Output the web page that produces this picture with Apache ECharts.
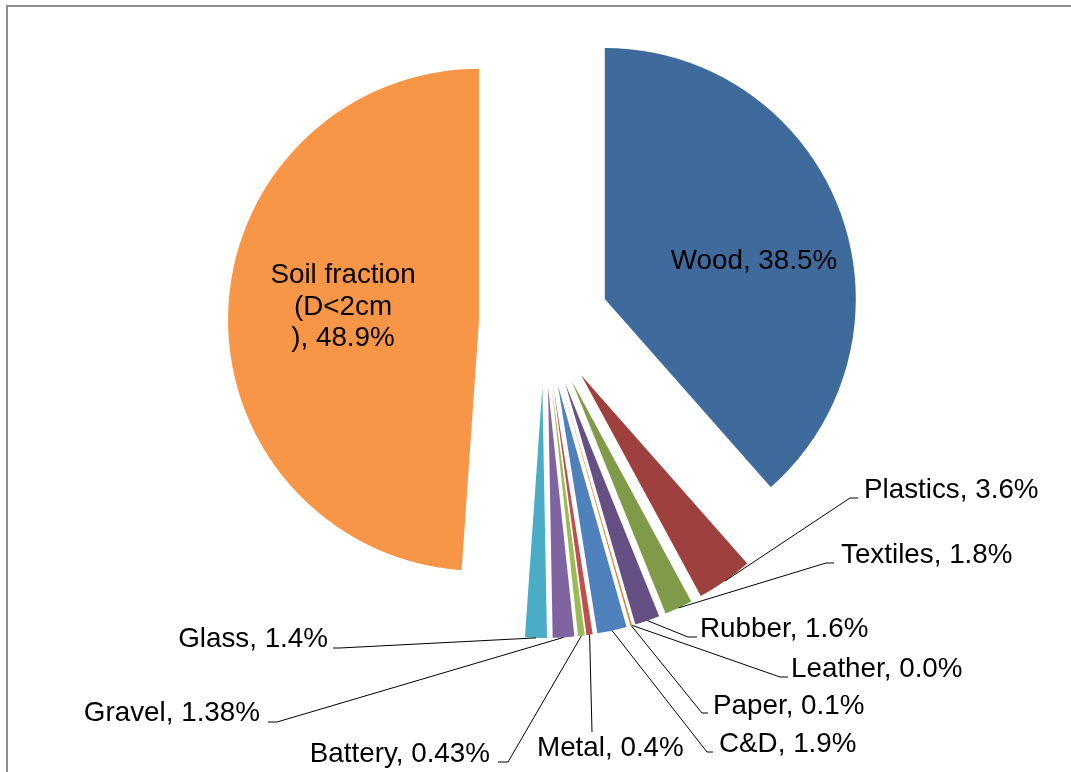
<!DOCTYPE html>
<html>
<head>
<meta charset="utf-8">
<style>
  html, body { margin: 0; padding: 0; background: #ffffff; }
  #chart { width: 1071px; height: 772px; }
</style>
<script src="https://cdn.jsdelivr.net/npm/echarts@6/dist/echarts.min.js"></script>
</head>
<body>
<div id="chart"></div>
<script>
// Waste composition (% by weight), clockwise from 12 o'clock
const categories = ['Wood', 'Plastics', 'Textiles', 'Rubber', 'Leather', 'Paper',
  'C&D', 'Metal', 'Battery', 'Gravel', 'Glass', 'Soil fraction\n(D<2cm\n)'];
const shares = [38.5, 3.6, 1.8, 1.6, 0.0, 0.1, 1.9, 0.4, 0.43, 1.38, 1.4, 48.9];
const shareDigits = [1, 1, 1, 1, 1, 1, 1, 1, 2, 2, 1, 1];
const sliceColors = ['#3f6a9c', '#9e413e', '#7f9a48', '#664f83', '#31859c', '#e07a2c',
  '#4f81bd', '#c0504d', '#9bbb59', '#8064a2', '#4bacc6', '#f79646'];

const PIE_CENTER = [544, 322];
const PIE_RADIUS = 251;
const EXPLODE = 65;

// Where each data label sits, and the elbow/end of its leader line
const labelSpots = {
  'Wood':     { x: 754, y: 261, align: 'center' },
  'Plastics': { x: 864, y: 490, align: 'left',  line: [[850, 498], [858, 498]] },
  'Textiles': { x: 841, y: 555, align: 'left',  line: [[826, 563], [834, 563]] },
  'Rubber':   { x: 700, y: 629, align: 'left',  line: [[688, 637], [697, 637]] },
  'Leather':  { x: 791, y: 669, align: 'left',  line: [[780, 677], [788, 677]] },
  'Paper':    { x: 713, y: 706, align: 'left',  line: [[702, 713], [708, 713]] },
  'C&D':      { x: 719, y: 744, align: 'left',  line: [[707, 752], [713, 752]] },
  'Metal':    { x: 537, y: 748, align: 'left',  line: [[592, 732], [592, 732]] },
  'Battery':  { x: 490, y: 754, align: 'right', line: [[508, 762], [498, 762]] },
  'Gravel':   { x: 260, y: 713, align: 'right', line: [[277, 722], [268, 722]] },
  'Glass':    { x: 328, y: 639, align: 'right', line: [[340, 648], [333, 648]] }
};
labelSpots[categories[categories.length - 1]] = { x: 343, y: 307, align: 'center' };

// Explosion shift of each slice along its mid angle (clockwise from 12 o'clock)
const total = shares.reduce((a, b) => a + b, 0);
const sliceShift = [];
let acc = 0;
shares.forEach(v => {
  const mid = (acc + v / 2) / total * Math.PI * 2;
  sliceShift.push([EXPLODE * Math.sin(mid), -EXPLODE * Math.cos(mid)]);
  acc += v;
});

const sliceData = categories.map((name, i) => ({
  name: name,
  value: shares[i],
  selected: true,
  itemStyle: { color: sliceColors[i] }
}));

const labelData = categories.map((name, i) => ({
  name: name,
  value: shares[i],
  labelLine: { show: !!labelSpots[name].line }
}));

const fontStack = '"Liberation Sans", Arial, sans-serif';

const chart = echarts.init(document.getElementById('chart'), null, { renderer: 'canvas' });

chart.setOption({
  animation: false,
  backgroundColor: '#ffffff',
  graphic: [{
    type: 'rect',
    shape: { x: 7, y: 6, width: 1200, height: 1000 },
    style: { fill: null, stroke: '#8d8d8d', lineWidth: 2 },
    silent: true
  }],
  series: [{
    // exploded slices
    type: 'pie',
    center: PIE_CENTER,
    radius: PIE_RADIUS,
    startAngle: 90,
    clockwise: true,
    selectedMode: 'multiple',
    selectedOffset: EXPLODE,
    silent: true,
    emphasis: { disabled: true },
    itemStyle: { borderWidth: 0 },
    label: { show: false },
    labelLine: { show: false },
    data: sliceData
  }, {
    // data labels with leader lines
    type: 'pie',
    center: PIE_CENTER,
    radius: PIE_RADIUS,
    startAngle: 90,
    clockwise: true,
    selectedMode: false,
    silent: true,
    z: 3,
    avoidLabelOverlap: false,
    emphasis: { disabled: true },
    itemStyle: { color: 'rgba(0,0,0,0)', borderWidth: 0 },
    label: {
      show: true,
      position: 'outside',
      color: '#000000',
      fontFamily: fontStack,
      fontSize: 27.8,
      lineHeight: 31.5,
      formatter: function (p) {
        return p.name + ', ' + shares[p.dataIndex].toFixed(shareDigits[p.dataIndex]) + '%';
      }
    },
    labelLine: {
      show: true,
      length: 10,
      length2: 10,
      lineStyle: { color: '#000000', width: 1 }
    },
    labelLayout: function (p) {
      const spot = labelSpots[categories[p.dataIndex]];
      const out = { x: spot.x, y: spot.y, align: spot.align, verticalAlign: 'middle' };
      if (spot.line && p.labelLinePoints) {
        const s = sliceShift[p.dataIndex];
        const start = [p.labelLinePoints[0][0] + s[0], p.labelLinePoints[0][1] + s[1]];
        out.labelLinePoints = [start, spot.line[0], spot.line[1]];
      }
      return out;
    },
    data: labelData
  }]
});
</script>
</body>
</html>
